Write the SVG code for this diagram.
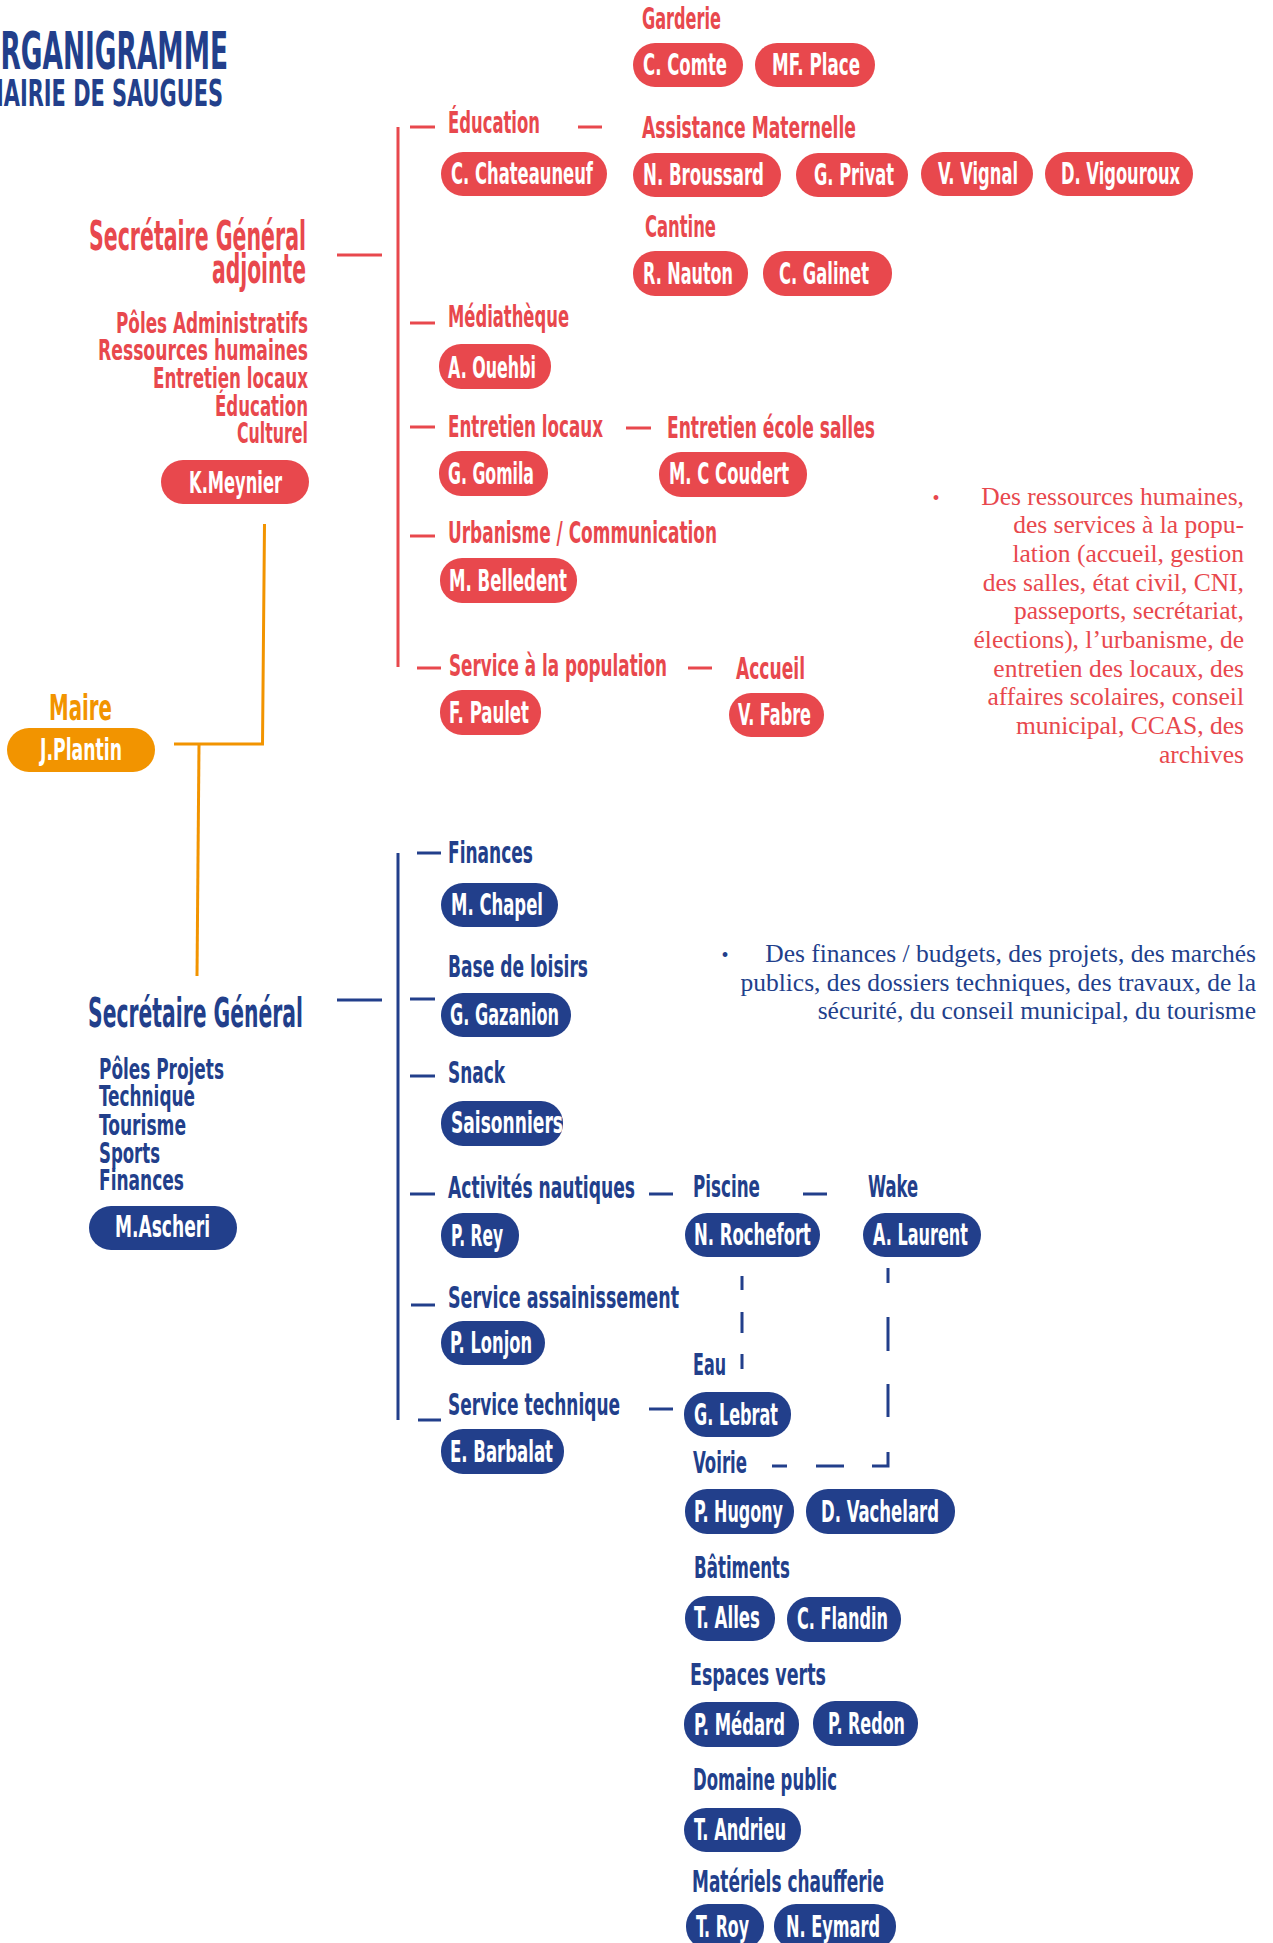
<svg xmlns="http://www.w3.org/2000/svg" width="1273" height="1943" viewBox="0 0 1273 1943">
<style>
  .c { font-family: "Liberation Sans Narrow", "DejaVu Sans Condensed", "Liberation Sans", sans-serif; font-weight: 700; }
  .r { fill: #e8484d; }
  .b { fill: #223f8b; }
  .o { fill: #f29400; }
  .w { fill: #ffffff; }
  .big { font-size: 40px; }
  .lbl { font-size: 30px; }
  .sub { font-size: 28px; }
  .pt { font-size: 30px; fill: #ffffff; }
  .para { font-family: "Liberation Serif", "DejaVu Serif", serif; font-size: 25.5px; text-anchor: end; }
  .lr { stroke: #e8484d; stroke-width: 3; fill: none; }
  .lb { stroke: #223f8b; stroke-width: 3; fill: none; }
  .lo { stroke: #f29400; stroke-width: 3; fill: none; }
</style>
<rect width="1273" height="1943" fill="#ffffff"/>

<g id="title" class="c b">
  <text x="-22" y="69" font-size="52" textLength="250" lengthAdjust="spacingAndGlyphs">ORGANIGRAMME</text>
  <text x="-17" y="106" font-size="38" textLength="240" lengthAdjust="spacingAndGlyphs">MAIRIE DE SAUGUES</text>
</g>

<g id="connectors">
  <g id="conn-red" class="lr">
    <path d="M337,255 H382"/>
    <path d="M398,127 V667"/>
    <path d="M410,127 H435 M578,127 H602"/>
    <path d="M410,323 H435"/>
    <path d="M410,427 H435 M626,428 H651"/>
    <path d="M410,536 H435"/>
    <path d="M417,668 H441 M688,668 H712"/>
  </g>
  <g id="conn-orange" class="lo">
    <path d="M264.5,524 L262.5,744 H174"/>
    <path d="M199,744 L197,976"/>
  </g>
  <g id="conn-blue" class="lb">
    <path d="M337,1000 H382"/>
    <path d="M398,853 V1420"/>
    <path d="M417,853 H441"/>
    <path d="M410,999 H435"/>
    <path d="M410,1076 H435"/>
    <path d="M410,1194 H435"/>
    <path d="M649,1194 H673 M803,1194 H827"/>
    <path d="M411,1305 H435"/>
    <path d="M418,1420 H441"/>
    <path d="M649,1409 H673"/>
    <path d="M742,1276 V1290 M742,1312 V1333 M742,1354 V1369"/>
    <path d="M888,1268 V1283 M888,1317 V1351 M888,1384 V1417 M888,1452 V1466 H872 M844,1466 H816 M787,1466 H772"/>
  </g>
</g>

<!-- Red side -->
<g id="sg-adjointe" class="c">
  <text class="r big" x="89" y="250" textLength="217" lengthAdjust="spacingAndGlyphs">Secrétaire Général</text>
  <text class="r big" x="212" y="283" textLength="94" lengthAdjust="spacingAndGlyphs">adjointe</text>
  <text class="r sub" x="116" y="333" textLength="192" lengthAdjust="spacingAndGlyphs">Pôles Administratifs</text>
  <text class="r sub" x="98" y="360" textLength="210" lengthAdjust="spacingAndGlyphs">Ressources humaines</text>
  <text class="r sub" x="153" y="388" textLength="155" lengthAdjust="spacingAndGlyphs">Entretien locaux</text>
  <text class="r sub" x="215" y="416" textLength="93" lengthAdjust="spacingAndGlyphs">Éducation</text>
  <text class="r sub" x="237" y="443" textLength="71" lengthAdjust="spacingAndGlyphs">Culturel</text>
  <rect class="r" x="161" y="460" width="148" height="44" rx="22"/>
  <text class="pt" x="189" y="493" textLength="93" lengthAdjust="spacingAndGlyphs">K.Meynier</text>
</g>

<g id="maire" class="c">
  <text class="o" x="49" y="720" font-size="36" textLength="63" lengthAdjust="spacingAndGlyphs">Maire</text>
  <rect class="o" x="7" y="728" width="148" height="44" rx="22"/>
  <text class="pt" x="40" y="760" textLength="82" lengthAdjust="spacingAndGlyphs">J.Plantin</text>
</g>

<g id="education" class="c">
  <text class="r lbl" x="448" y="133" textLength="92" lengthAdjust="spacingAndGlyphs">Éducation</text>
  <rect class="r" x="441" y="152" width="166" height="44" rx="22"/>
  <text class="pt" x="451" y="184" textLength="142" lengthAdjust="spacingAndGlyphs">C. Chateauneuf</text>
</g>

<g id="garderie" class="c">
  <text class="r lbl" x="642" y="29" textLength="79" lengthAdjust="spacingAndGlyphs">Garderie</text>
  <rect class="r" x="633" y="43" width="110" height="44" rx="22"/>
  <text class="pt" x="643" y="75" textLength="84" lengthAdjust="spacingAndGlyphs">C. Comte</text>
  <rect class="r" x="755" y="43" width="120" height="44" rx="22"/>
  <text class="pt" x="772" y="75" textLength="88" lengthAdjust="spacingAndGlyphs">MF. Place</text>
</g>

<g id="assistance-maternelle" class="c">
  <text class="r lbl" x="642" y="138" textLength="214" lengthAdjust="spacingAndGlyphs">Assistance Maternelle</text>
  <rect class="r" x="633" y="153" width="148" height="44" rx="22"/>
  <text class="pt" x="643" y="185" textLength="121" lengthAdjust="spacingAndGlyphs">N. Broussard</text>
  <rect class="r" x="796" y="153" width="112" height="44" rx="22"/>
  <text class="pt" x="814" y="185" textLength="80" lengthAdjust="spacingAndGlyphs">G. Privat</text>
  <rect class="r" x="921" y="152" width="112" height="44" rx="22"/>
  <text class="pt" x="938" y="184" textLength="80" lengthAdjust="spacingAndGlyphs">V. Vignal</text>
  <rect class="r" x="1045" y="152" width="148" height="44" rx="22"/>
  <text class="pt" x="1061" y="184" textLength="119" lengthAdjust="spacingAndGlyphs">D. Vigouroux</text>
</g>

<g id="cantine" class="c">
  <text class="r lbl" x="645" y="237" textLength="71" lengthAdjust="spacingAndGlyphs">Cantine</text>
  <rect class="r" x="633" y="251" width="115" height="45" rx="22"/>
  <text class="pt" x="643" y="284" textLength="90" lengthAdjust="spacingAndGlyphs">R. Nauton</text>
  <rect class="r" x="763" y="251" width="129" height="45" rx="22"/>
  <text class="pt" x="779" y="284" textLength="90" lengthAdjust="spacingAndGlyphs">C. Galinet</text>
</g>

<g id="mediatheque" class="c">
  <text class="r lbl" x="448" y="327" textLength="121" lengthAdjust="spacingAndGlyphs">Médiathèque</text>
  <rect class="r" x="439" y="344" width="112" height="45" rx="22"/>
  <text class="pt" x="448" y="378" textLength="88" lengthAdjust="spacingAndGlyphs">A. Ouehbi</text>
</g>

<g id="entretien-locaux" class="c">
  <text class="r lbl" x="448" y="437" textLength="155" lengthAdjust="spacingAndGlyphs">Entretien locaux</text>
  <rect class="r" x="439" y="451" width="109" height="45" rx="22"/>
  <text class="pt" x="448" y="484" textLength="86" lengthAdjust="spacingAndGlyphs">G. Gomila</text>
</g>

<g id="entretien-ecole" class="c">
  <text class="r lbl" x="667" y="438" textLength="208" lengthAdjust="spacingAndGlyphs">Entretien école salles</text>
  <rect class="r" x="659" y="452" width="148" height="45" rx="22"/>
  <text class="pt" x="669" y="484" textLength="120" lengthAdjust="spacingAndGlyphs">M. C Coudert</text>
</g>

<g id="urbanisme" class="c">
  <text class="r lbl" x="448" y="543" textLength="269" lengthAdjust="spacingAndGlyphs">Urbanisme / Communication</text>
  <rect class="r" x="440" y="558" width="137" height="45" rx="22"/>
  <text class="pt" x="449" y="591" textLength="118" lengthAdjust="spacingAndGlyphs">M. Belledent</text>
</g>

<g id="service-population" class="c">
  <text class="r lbl" x="449" y="676" textLength="218" lengthAdjust="spacingAndGlyphs">Service à la population</text>
  <rect class="r" x="440" y="690" width="101" height="45" rx="22"/>
  <text class="pt" x="449" y="723" textLength="80" lengthAdjust="spacingAndGlyphs">F. Paulet</text>
</g>

<g id="accueil" class="c">
  <text class="r lbl" x="736" y="679" textLength="69" lengthAdjust="spacingAndGlyphs">Accueil</text>
  <rect class="r" x="729" y="693" width="95" height="44" rx="22"/>
  <text class="pt" x="738" y="725" textLength="73" lengthAdjust="spacingAndGlyphs">V. Fabre</text>
</g>

<g id="note-red" class="para r">
  <text x="936" y="505" text-anchor="middle" font-size="20">•</text>
  <text x="1244" y="505">Des ressources humaines,</text>
  <text x="1244" y="533">des services à la popu-</text>
  <text x="1244" y="562">lation (accueil, gestion</text>
  <text x="1244" y="591">des salles, état civil, CNI,</text>
  <text x="1244" y="619">passeports, secrétariat,</text>
  <text x="1244" y="648">élections), l’urbanisme, de</text>
  <text x="1244" y="677">entretien des locaux, des</text>
  <text x="1244" y="705">affaires scolaires, conseil</text>
  <text x="1244" y="734">municipal, CCAS, des</text>
  <text x="1244" y="763">archives</text>
</g>

<!-- Blue side -->
<g id="sg" class="c">
  <text class="b big" x="88" y="1027" textLength="215" lengthAdjust="spacingAndGlyphs">Secrétaire Général</text>
  <text class="b sub" x="99" y="1079" textLength="125" lengthAdjust="spacingAndGlyphs">Pôles Projets</text>
  <text class="b sub" x="99" y="1106" textLength="96" lengthAdjust="spacingAndGlyphs">Technique</text>
  <text class="b sub" x="99" y="1135" textLength="87" lengthAdjust="spacingAndGlyphs">Tourisme</text>
  <text class="b sub" x="99" y="1163" textLength="61" lengthAdjust="spacingAndGlyphs">Sports</text>
  <text class="b sub" x="99" y="1190" textLength="85" lengthAdjust="spacingAndGlyphs">Finances</text>
  <rect class="b" x="89" y="1206" width="148" height="44" rx="22"/>
  <text class="pt" x="115" y="1237" textLength="95" lengthAdjust="spacingAndGlyphs">M.Ascheri</text>
</g>

<g id="finances" class="c">
  <text class="b lbl" x="448" y="863" textLength="85" lengthAdjust="spacingAndGlyphs">Finances</text>
  <rect class="b" x="441" y="883" width="117" height="44" rx="22"/>
  <text class="pt" x="451" y="915" textLength="92" lengthAdjust="spacingAndGlyphs">M. Chapel</text>
</g>

<g id="base-loisirs" class="c">
  <text class="b lbl" x="448" y="977" textLength="140" lengthAdjust="spacingAndGlyphs">Base de loisirs</text>
  <rect class="b" x="441" y="993" width="130" height="44" rx="22"/>
  <text class="pt" x="450" y="1025" textLength="109" lengthAdjust="spacingAndGlyphs">G. Gazanion</text>
</g>

<g id="snack" class="c">
  <text class="b lbl" x="448" y="1083" textLength="57" lengthAdjust="spacingAndGlyphs">Snack</text>
  <rect class="b" x="441" y="1101" width="122" height="45" rx="22"/>
  <text class="pt" x="451" y="1133" textLength="112" lengthAdjust="spacingAndGlyphs">Saisonniers</text>
</g>

<g id="activites-nautiques" class="c">
  <text class="b lbl" x="448" y="1198" textLength="187" lengthAdjust="spacingAndGlyphs">Activités nautiques</text>
  <rect class="b" x="441" y="1213" width="78" height="45" rx="22"/>
  <text class="pt" x="451" y="1246" textLength="52" lengthAdjust="spacingAndGlyphs">P. Rey</text>
</g>

<g id="piscine" class="c">
  <text class="b lbl" x="693" y="1197" textLength="67" lengthAdjust="spacingAndGlyphs">Piscine</text>
  <rect class="b" x="685" y="1213" width="135" height="44" rx="22"/>
  <text class="pt" x="694" y="1245" textLength="117" lengthAdjust="spacingAndGlyphs">N. Rochefort</text>
</g>

<g id="wake" class="c">
  <text class="b lbl" x="868" y="1197" textLength="50" lengthAdjust="spacingAndGlyphs">Wake</text>
  <rect class="b" x="863" y="1213" width="118" height="44" rx="22"/>
  <text class="pt" x="873" y="1245" textLength="95" lengthAdjust="spacingAndGlyphs">A. Laurent</text>
</g>

<g id="note-blue" class="para b">
  <text x="725" y="962" text-anchor="middle" font-size="20">•</text>
  <text x="1256" y="962">Des finances / budgets, des projets, des marchés</text>
  <text x="1256" y="991">publics, des dossiers techniques, des travaux, de la</text>
  <text x="1256" y="1019">sécurité, du conseil municipal, du tourisme</text>
</g>

<g id="assainissement" class="c">
  <text class="b lbl" x="448" y="1308" textLength="231" lengthAdjust="spacingAndGlyphs">Service assainissement</text>
  <rect class="b" x="441" y="1321" width="104" height="44" rx="22"/>
  <text class="pt" x="450" y="1353" textLength="82" lengthAdjust="spacingAndGlyphs">P. Lonjon</text>
</g>

<g id="service-technique" class="c">
  <text class="b lbl" x="448" y="1415" textLength="172" lengthAdjust="spacingAndGlyphs">Service technique</text>
  <rect class="b" x="441" y="1429" width="123" height="45" rx="22"/>
  <text class="pt" x="450" y="1462" textLength="103" lengthAdjust="spacingAndGlyphs">E. Barbalat</text>
</g>

<g id="eau" class="c">
  <text class="b lbl" x="693" y="1375" textLength="33" lengthAdjust="spacingAndGlyphs">Eau</text>
  <rect class="b" x="684" y="1392" width="107" height="45" rx="22"/>
  <text class="pt" x="694" y="1425" textLength="84" lengthAdjust="spacingAndGlyphs">G. Lebrat</text>
</g>

<g id="voirie" class="c">
  <text class="b lbl" x="693" y="1473" textLength="54" lengthAdjust="spacingAndGlyphs">Voirie</text>
  <rect class="b" x="685" y="1489" width="109" height="45" rx="22"/>
  <text class="pt" x="694" y="1522" textLength="89" lengthAdjust="spacingAndGlyphs">P. Hugony</text>
  <rect class="b" x="806" y="1489" width="149" height="45" rx="22"/>
  <text class="pt" x="821" y="1522" textLength="118" lengthAdjust="spacingAndGlyphs">D. Vachelard</text>
</g>

<g id="batiments" class="c">
  <text class="b lbl" x="694" y="1578" textLength="96" lengthAdjust="spacingAndGlyphs">Bâtiments</text>
  <rect class="b" x="685" y="1596" width="90" height="45" rx="22"/>
  <text class="pt" x="694" y="1628" textLength="66" lengthAdjust="spacingAndGlyphs">T. Alles</text>
  <rect class="b" x="787" y="1597" width="114" height="45" rx="22"/>
  <text class="pt" x="797" y="1629" textLength="91" lengthAdjust="spacingAndGlyphs">C. Flandin</text>
</g>

<g id="espaces-verts" class="c">
  <text class="b lbl" x="690" y="1685" textLength="136" lengthAdjust="spacingAndGlyphs">Espaces verts</text>
  <rect class="b" x="684" y="1702" width="115" height="45" rx="22"/>
  <text class="pt" x="694" y="1735" textLength="91" lengthAdjust="spacingAndGlyphs">P. Médard</text>
  <rect class="b" x="813" y="1701" width="105" height="45" rx="22"/>
  <text class="pt" x="828" y="1734" textLength="77" lengthAdjust="spacingAndGlyphs">P. Redon</text>
</g>

<g id="domaine-public" class="c">
  <text class="b lbl" x="693" y="1790" textLength="144" lengthAdjust="spacingAndGlyphs">Domaine public</text>
  <rect class="b" x="684" y="1808" width="117" height="44" rx="22"/>
  <text class="pt" x="694" y="1840" textLength="92" lengthAdjust="spacingAndGlyphs">T. Andrieu</text>
</g>

<g id="materiels-chaufferie" class="c">
  <text class="b lbl" x="692" y="1892" textLength="192" lengthAdjust="spacingAndGlyphs">Matériels chaufferie</text>
  <rect class="b" x="686" y="1904" width="78" height="45" rx="22"/>
  <text class="pt" x="696" y="1937" textLength="53" lengthAdjust="spacingAndGlyphs">T. Roy</text>
  <rect class="b" x="774" y="1904" width="122" height="45" rx="22"/>
  <text class="pt" x="786" y="1937" textLength="94" lengthAdjust="spacingAndGlyphs">N. Eymard</text>
</g>
</svg>
